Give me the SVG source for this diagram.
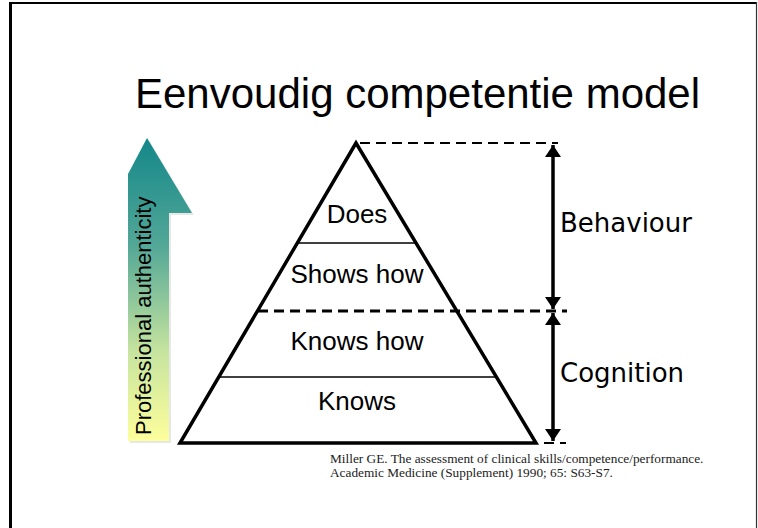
<svg xmlns="http://www.w3.org/2000/svg" width="758" height="528" viewBox="0 0 758 528">
  <style>
    .title { font-family: "Liberation Sans", Arial, sans-serif; font-size: 42px; fill: #000; }
    .lvl { font-family: "Liberation Sans", Arial, sans-serif; font-size: 26px; fill: #000; text-anchor: middle; }
    .side { font-family: "DejaVu Sans", Verdana, sans-serif; font-size: 26px; fill: #000; }
    .vert { font-family: "Liberation Sans", Arial, sans-serif; font-size: 22px; fill: #000; }
    .cite { font-family: "Liberation Serif", "Times New Roman", serif; font-size: 13.3px; fill: #222; }
    .dash { stroke: #000; fill: none; stroke-dasharray: 10 6; }
    .thin { stroke: #000; stroke-width: 1.3; fill: none; }
    .dim { stroke: #000; stroke-width: 3.5; fill: none; }
  </style>
  <defs>
    <linearGradient id="authGrad" x1="0" y1="138" x2="0" y2="443" gradientUnits="userSpaceOnUse">
      <stop offset="0" stop-color="#138789"/>
      <stop offset="0.35" stop-color="#52a797"/>
      <stop offset="0.7" stop-color="#c6e49f"/>
      <stop offset="1" stop-color="#ffff9c"/>
    </linearGradient>
    <marker id="head" viewBox="0 0 12 16" refX="12" refY="8" markerWidth="12" markerHeight="16" markerUnits="userSpaceOnUse" orient="auto-start-reverse">
      <path d="M0,0 L12,8 L0,16 Z" fill="#000"/>
    </marker>
  </defs>

  <!-- frame -->
  <g id="frame">
    <line x1="10.5" y1="2" x2="10.5" y2="528" stroke="#000" stroke-width="3"/>
    <line x1="9" y1="3" x2="757" y2="3" stroke="#000" stroke-width="2"/>
    <line x1="756.5" y1="2" x2="756.5" y2="528" stroke="#333" stroke-width="1.2"/>
  </g>

  <g id="title">
    <text class="title" x="135" y="108">Eenvoudig competentie model</text>
  </g>

  <!-- professional authenticity arrow -->
  <g id="authenticity-arrow">
    <polygon points="149,140 194,215 171,215 171,443 130,443 130,177" fill="#cfcfcf" opacity="0.5"/>
    <polygon points="147,138 192,213 169,213 169,441 128,441 128,174" fill="url(#authGrad)"/>
    <text class="vert" transform="translate(151,435) rotate(-90)">Professional authenticity</text>
  </g>

  <!-- pyramid -->
  <g id="pyramid">
    <polygon points="356,143 180,443 536,443" fill="none" stroke="#000" stroke-width="3.5" stroke-linejoin="miter"/>
  </g>
  <g id="level-does">
    <text class="lvl" x="357" y="223">Does</text>
  </g>
  <g id="level-shows-how">
    <line class="thin" x1="297" y1="243" x2="415" y2="243"/>
    <text class="lvl" x="357" y="283">Shows how</text>
  </g>
  <g id="level-knows-how">
    <text class="lvl" x="357" y="350">Knows how</text>
  </g>
  <g id="level-knows">
    <line class="thin" x1="218" y1="377" x2="495" y2="377"/>
    <text class="lvl" x="357" y="410">Knows</text>
  </g>

  <g id="label-behaviour">
    <text class="side" x="560" y="232">Behaviour</text>
  </g>
  <g id="label-cognition">
    <text class="side" x="560" y="382">Cognition</text>
  </g>

  <g id="citation">
    <text class="cite" x="330" y="463">Miller GE. The assessment of clinical skills/competence/performance.</text>
    <text class="cite" x="330" y="477">Academic Medicine (Supplement) 1990; 65: S63-S7.</text>
  </g>

  <!-- connectors -->
  <g id="connectors">
    <line class="dash" x1="360" y1="143" x2="558" y2="143" stroke-width="2.2"/>
    <line class="dash" x1="258" y1="311" x2="567" y2="311" stroke-width="3"/>
    <line class="dash" x1="544" y1="443" x2="566" y2="443" stroke-width="2.2" stroke-dasharray="6 5"/>
    <line class="dim" x1="553" y1="145" x2="553" y2="309" marker-start="url(#head)" marker-end="url(#head)"/>
    <line class="dim" x1="553" y1="313" x2="553" y2="441" marker-start="url(#head)" marker-end="url(#head)"/>
  </g>
</svg>
